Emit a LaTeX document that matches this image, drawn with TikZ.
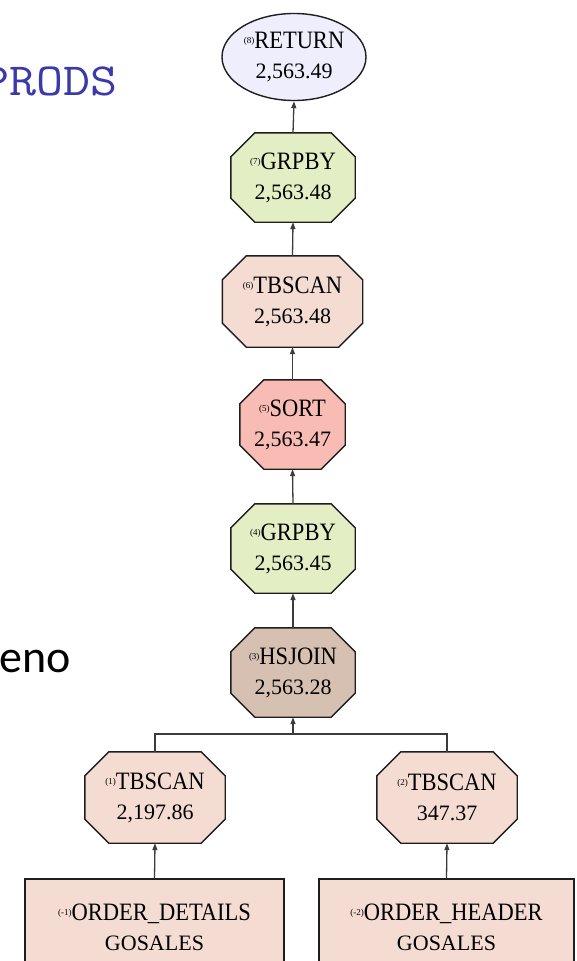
\documentclass[tikz,border=0pt]{standalone}
\usepackage{fontspec}
\setmainfont{Liberation Serif}
\newfontfamily\slidefont{Carlito}
\usetikzlibrary{shapes.geometric,arrows.meta,backgrounds}

\definecolor{retfill}{RGB}{238,238,252}
\definecolor{grpfill}{RGB}{228,238,196}
\definecolor{scanfill}{RGB}{244,220,210}
\definecolor{sortfill}{RGB}{249,188,180}
\definecolor{joinfill}{RGB}{214,192,178}
\definecolor{edgec}{RGB}{60,60,60}
\definecolor{borderc}{RGB}{30,30,30}
\definecolor{prodsblue}{RGB}{58,58,168}

% small operator number in front of the operator name
\newcommand\opnum[1]{{\fontsize{9}{9}\selectfont\raisebox{5pt}{(#1)}}}
\newcommand\opname[1]{\scalebox{0.9}[1]{\fontsize{25}{25}\selectfont #1}}

% octagon outline around a node's bounding rectangle
\newcommand\octo[3]{%
  \filldraw[fill=#2, draw=borderc, line width=1.4pt, line join=miter]
    ([xshift=#3]#1.north west) -- ([xshift=-#3]#1.north east)
    -- ([yshift=-#3]#1.north east) -- ([yshift=#3]#1.south east)
    -- ([xshift=-#3]#1.south east) -- ([xshift=#3]#1.south west)
    -- ([yshift=#3]#1.south west) -- ([yshift=-#3]#1.north west) -- cycle;}

\tikzset{
  op/.style={inner sep=0pt, align=center, font=\fontsize{22}{30}\selectfont},
  opsize/.style 2 args={minimum width=#1, minimum height=#2},
  tablebox/.style={op, draw=borderc, line width=1.4pt, fill=scanfill},
  conn/.style={draw=edgec, line width=1.3pt},
  up/.style={conn, -{Triangle[length=7pt,width=5pt]}},
}

\begin{document}
\begin{tikzpicture}[x=1pt, y=-1pt]
\useasboundingbox (0,0) rectangle (576,961);
\clip (0,0) rectangle (576,961);

% slide text around the plan
\node[anchor=base west, inner sep=0pt, text=prodsblue,
      font=\ttfamily\fontsize{46}{46}\selectfont] (prods) at (-18,95)
      {\scalebox{1.14}[1]{PRODS}};
\node[anchor=base west, inner sep=0pt,
      font=\slidefont\fontsize{46}{46}\selectfont] (eno) at (-1,672) {eno};

% operators
\node[op, shape=ellipse, draw=borderc, line width=1.4pt, fill=retfill,
      opsize={144pt}{87pt}] (ret) at (294,57) {\opnum{8}\opname{RETURN}\\2,563.49};
\node[op, opsize={124pt}{89pt}] (g7) at (293,177.5) {\opnum{7}\opname{GRPBY}\\2,563.48};
\node[op, opsize={140pt}{91pt}] (t6) at (292.5,301.5) {\opnum{6}\opname{TBSCAN}\\2,563.48};
\node[op, opsize={105pt}{89pt}] (s5) at (292.5,424.5) {\opnum{5}\opname{SORT}\\2,563.47};
\node[op, opsize={124pt}{89pt}] (g4) at (293,548.5) {\opnum{4}\opname{GRPBY}\\2,563.45};
\node[op, opsize={124pt}{89pt}] (h3) at (293,672.5) {\opnum{3}\opname{HSJOIN}\\2,563.28};
\node[op, opsize={140pt}{91pt}] (t1) at (155,797.5) {\opnum{1}\opname{TBSCAN}\\2,197.86};
\node[op, opsize={140pt}{91pt}] (t2) at (447,797.5) {\opnum{2}\opname{TBSCAN}\\347.37};

% base tables
\node[tablebox, opsize={259pt}{96pt}] (od) at (154.5,927)
  {\opnum{-1}\opname{ORDER\_DETAILS}\\GOSALES};
\node[tablebox, opsize={255pt}{96pt}] (oh) at (446.5,927)
  {\opnum{-2}\opname{ORDER\_HEADER}\\GOSALES};

\begin{scope}[on background layer]
  \octo{g7}{grpfill}{24pt}
  \octo{t6}{scanfill}{24pt}
  \octo{s5}{sortfill}{24pt}
  \octo{g4}{grpfill}{24pt}
  \octo{h3}{joinfill}{24pt}
  \octo{t1}{scanfill}{24pt}
  \octo{t2}{scanfill}{24pt}
\end{scope}

% data flow, bottom to top
\coordinate (fork) at (293,734);
\draw[up] (g7.north) -- (ret.south);
\draw[up] (t6.north) -- (g7.south);
\draw[up] (s5.north) -- (t6.south);
\draw[up] (g4.north) -- (s5.south);
\draw[up] (h3.north) -- (g4.south);
\draw[conn] (t1.north) |- (fork) -| (t2.north);
\draw[up] (fork) -- (h3.south);
\draw[up] (od.north) -- (t1.south);
\draw[up] (oh.north) -- (t2.south);
\end{tikzpicture}
\end{document}
